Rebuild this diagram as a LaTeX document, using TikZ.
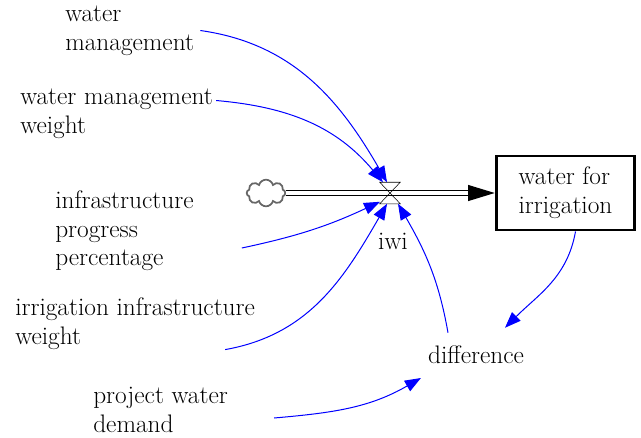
\documentclass[tikz,border=0pt]{standalone}
\usetikzlibrary{calc,arrows.meta,shapes.symbols}

\begin{document}
\begin{tikzpicture}[x=0.75pt,y=0.75pt,color=black,
  vartext/.style={inner sep=0pt,align=left,font=\fontsize{19}{21.5}\selectfont},
  link/.style={blue,line width=0.75pt,-{Triangle[length=12pt,width=9pt]}}]

\useasboundingbox (0,0) rectangle (641,437);

\node (wm) at (65,406.5)[vartext,anchor=west]{water\\management};

\node (wmw) at (20,323.5)[vartext,anchor=west]{water management\\weight};

\node (ipp) at (55,206)[vartext,anchor=west]{infrastructure\\progress\\percentage};

\node (iiw) at (15,113.5)[vartext,anchor=west]{irrigation infrastructure\\weight};

\node (pwd) at (93,27)[vartext,anchor=west]{project water\\demand};

\node (diff) at (476,82)[vartext]{difference};

\node (iwi) at (393,196)[vartext]{iwi};

\node (stock) at (565.5,244)[draw,line width=2.2pt,minimum width=104pt,minimum height=55.5pt,vartext]{water for\\irrigation};

\node (cloud) at (266,244)[cloud,cloud puffs=8,cloud ignores aspect,draw=black!60,line width=1.3pt,minimum width=29pt,minimum height=20pt,inner sep=0pt]{};

%the pipe and its valve
\draw[double distance=3.2pt,line width=0.8pt] (cloud.east) -- ($(stock.west)+(-26,0)$);
\draw[line width=0.8pt,-{Triangle[length=20pt,width=12pt]}] ($(stock.west)+(-27,0)$) -- (stock.west);

\node (valve) at (390,244)[minimum width=15pt,minimum height=15.75pt,inner sep=0pt]{};
\draw (valve.north west) -- (valve.north east) -- (valve.south west) -- (valve.south east) -- cycle;

\draw[link] ($(wm.east)+(6,0)$) to[out=-8,in=120] ($(valve.north)+(-3,0)$);
\draw[link] ($(wmw.east)+(3,13)$) to[out=-5,in=130] ($(valve.north)+(-7,0)$);
\draw[link] ($(ipp.east)+(48,-17)$) to[out=12,in=-155] ($(valve.south)+(-10,2)$);
\draw[link] ($(iiw.south east)+(-30,0)$) to[out=10,in=-120] ($(valve.south)+(-3,0)$);
\draw[link] ($(diff.north)+(-28,13)$) to[out=100,in=-60] ($(valve.south)+(8,0)$);
\draw[link] ($(stock.south)+(10,0)$) to[out=-100,in=45] ($(diff.north)+(29,18)$);
\draw[link] ($(pwd.east)+(46,-8)$) to[out=5,in=-150] ($(diff.west)+(-7,-23)$);

\end{tikzpicture}
\end{document}
